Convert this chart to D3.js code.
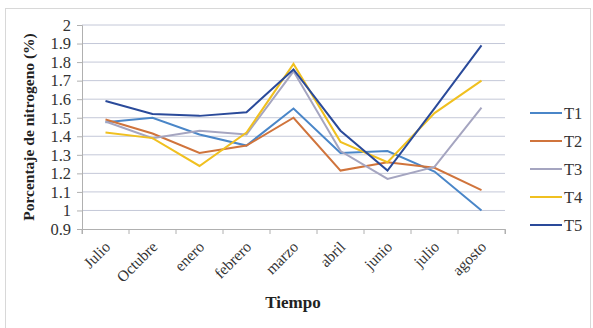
<!DOCTYPE html>
<html><head><meta charset="utf-8">
<script src="https://cdn.jsdelivr.net/npm/d3@7"></script>
<style>body{margin:0;background:#fff}svg{display:block}</style>
</head><body><svg id="c" width="593" height="328"></svg>
<script>
const categories = ["Julio","Octubre","enero","febrero","marzo","abril","junio","julio","agosto"];
const seriesNames = ["T1","T2","T3","T4","T5"];
const seriesColors = ["#4a86c8","#d0743c","#a5a5c0","#f0c020","#2a4a9a"];
const T1 = [1.475,1.50,1.41,1.35,1.55,1.31,1.32,1.21,1.00];
const T2 = [1.49,1.415,1.31,1.35,1.50,1.215,1.26,1.23,1.11];
const T3 = [1.48,1.39,1.43,1.41,1.75,1.32,1.17,1.235,1.555];
const T4 = [1.42,1.39,1.24,1.42,1.79,1.37,1.26,1.525,1.70];
const T5 = [1.59,1.52,1.51,1.53,1.76,1.43,1.215,1.55,1.89];
const yTicks = [0.9,1,1.1,1.2,1.3,1.4,1.5,1.6,1.7,1.8,1.9,2];
const yTickLabels = ["0.9","1","1.1","1.2","1.3","1.4","1.5","1.6","1.7","1.8","1.9","2"];
const series = [T1,T2,T3,T4,T5];

const svg = d3.select("#c");
const serif = "'Liberation Serif','DejaVu Serif',serif";
// frame
svg.append("rect").attr("x",5.5).attr("y",8.5).attr("width",585).attr("height",330)
  .attr("fill","none").attr("stroke","#d8d8d8");

const x = d3.scaleBand().domain(categories).range([82,505]);
const y = d3.scaleLinear().domain([0.9,2]).range([229,25]);

const g = svg.append("g");
// gridlines
g.selectAll("line.grid").data(yTicks.slice(1)).join("line")
  .attr("x1",82).attr("x2",505).attr("y1",d=>y(d)).attr("y2",d=>y(d))
  .attr("stroke","#c4c8d8").attr("stroke-width",1);

// y axis
const yAxis = d3.axisLeft(y).tickValues(yTicks).tickFormat((d,i)=>yTickLabels[i]).tickSize(5).tickPadding(6);
const ya = svg.append("g").attr("transform","translate(82,0)").call(yAxis);
ya.select(".domain").attr("stroke","#b0b0b0");
ya.selectAll(".tick line").attr("stroke","#b0b0b0");
ya.selectAll("text").attr("font-family",serif).attr("font-size",16.5).attr("fill","#333");

// x axis
const xAxis = d3.axisBottom(x).tickSize(5).tickFormat("");
const xa = svg.append("g").attr("transform","translate(0,229)").call(xAxis);
xa.select(".domain").attr("stroke","#b0b0b0");
xa.selectAll(".tick line").attr("stroke","#b0b0b0").attr("transform",`translate(${-x.bandwidth()/2},0)`);
svg.append("line").attr("x1",505).attr("x2",505).attr("y1",229).attr("y2",234).attr("stroke","#b0b0b0");
svg.append("g").selectAll("text").data(categories).join("text")
  .attr("transform",d=>`translate(${x(d)+x.bandwidth()/2+2},${244}) rotate(-45)`)
  .attr("text-anchor","end").attr("dy","0.35em")
  .attr("font-family",serif).attr("font-size",15.5).attr("fill","#333").text(d=>d);

// lines
const line = d3.line().x((d,i)=>x(categories[i])+x.bandwidth()/2).y(d=>y(d));
svg.append("g").selectAll("path").data(series).join("path")
  .attr("d",d=>line(d)).attr("fill","none")
  .attr("stroke",(d,i)=>seriesColors[i]).attr("stroke-width",2);

// axis titles
svg.append("text").attr("transform","translate(34,127) rotate(-90)").attr("text-anchor","middle")
  .attr("font-family",serif).attr("font-weight","bold").attr("font-size",15.5).attr("fill","#222")
  .text("Porcentaje de nitrogeno (%)");
svg.append("text").attr("x",293).attr("y",308).attr("text-anchor","middle")
  .attr("font-family",serif).attr("font-weight","bold").attr("font-size",17).attr("fill","#222")
  .text("Tiempo");

// legend
const lg = svg.append("g").selectAll("g").data(seriesNames).join("g")
  .attr("transform",(d,i)=>`translate(530,${113+i*28})`);
lg.append("line").attr("x1",0).attr("x2",32).attr("stroke",(d,i)=>seriesColors[i]).attr("stroke-width",2);
lg.append("text").attr("x",34).attr("dy","0.35em").attr("font-family",serif).attr("font-size",16.5)
  .attr("fill","#333").text(d=>d);
</script></body></html>
